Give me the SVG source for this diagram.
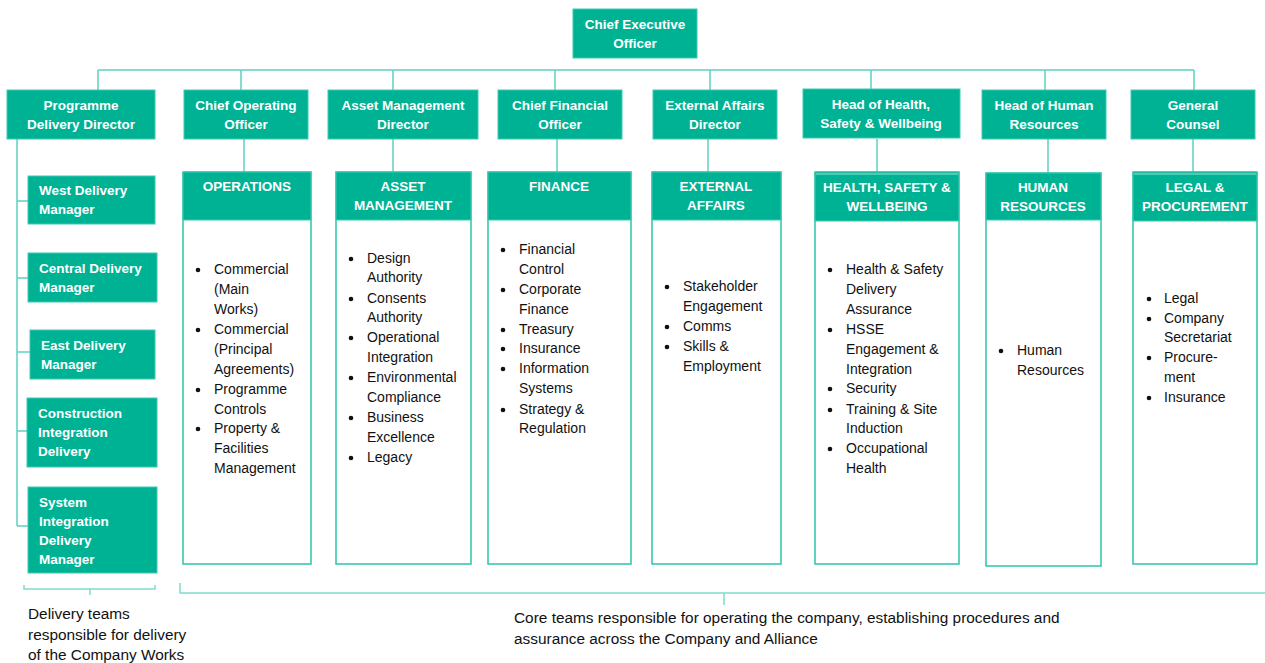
<svg xmlns="http://www.w3.org/2000/svg" width="1265" height="663" viewBox="0 0 1265 663">
<style>
.box{fill:#00b294;stroke:#3fcab3;stroke-width:1}
.body{fill:#fff;stroke:#2ec4aa;stroke-width:1.5}
.hd{fill:#00b294;stroke:#3fcab3;stroke-width:1}
.t{font-family:"Liberation Sans",Arial,sans-serif;font-weight:bold;font-size:13.5px;fill:#fff}
.c{text-anchor:middle}
.li{font-family:"Liberation Sans",Arial,sans-serif;font-size:14px;fill:#111}
.cap{font-family:"Liberation Sans",Arial,sans-serif;font-size:15.4px;fill:#111}
.ln{fill:none;stroke:#5fd2c0;stroke-width:1.5}
.br{fill:none;stroke:#7fdccd;stroke-width:1.5}
.bul{fill:#111}
</style>
<rect width="1265" height="663" fill="#fff"/>
<g id="connectors">
<path class="ln" d="M98,70 H1194 M98,70 V90 M241,70 V90 M393,70 V90 M555,70 V90 M710,70 V90 M871,70 V90 M1045,70 V90 M1194,70 V90"/>
<path class="ln" d="M244,139 V172 M393,139 V172 M557,139 V172 M708,139 V172 M877,139 V172 M1048,139 V173 M1193,139 V172"/>
<path class="ln" d="M17,139 V526 M17,201 H28 M17,278 H28 M17,352 H30 M17,431 H27 M17,526 H28"/>
</g>
<g id="braces">
<path class="br" d="M24,585 V589 H155 V585 M90,589 V595"/>
<path class="br" d="M180,583 V593 H1265 M724,593 V605"/>
</g>
<g id="ceo"><rect class="box" x="573" y="9" width="124" height="49"/><text class="t c" x="635" y="29">Chief Executive</text><text class="t c" x="635" y="48">Officer</text></g>
<g id="pdd"><rect class="box" x="7" y="90" width="148" height="49"/><text class="t c" x="81" y="110">Programme</text><text class="t c" x="81" y="129">Delivery Director</text></g>
<g id="coo"><rect class="box" x="184" y="90" width="124" height="49"/><text class="t c" x="246" y="110">Chief Operating</text><text class="t c" x="246" y="129">Officer</text></g>
<g id="amd"><rect class="box" x="328" y="90" width="150" height="49"/><text class="t c" x="403" y="110">Asset Management</text><text class="t c" x="403" y="129">Director</text></g>
<g id="cfo"><rect class="box" x="498" y="90" width="124" height="49"/><text class="t c" x="560" y="110">Chief Financial</text><text class="t c" x="560" y="129">Officer</text></g>
<g id="ead"><rect class="box" x="653" y="90" width="124" height="49"/><text class="t c" x="715" y="110">External Affairs</text><text class="t c" x="715" y="129">Director</text></g>
<g id="hhsw"><rect class="box" x="803" y="89" width="157" height="49"/><text class="t c" x="881" y="109">Head of Health,</text><text class="t c" x="881" y="128">Safety &amp; Wellbeing</text></g>
<g id="hhr"><rect class="box" x="982" y="90" width="124" height="49"/><text class="t c" x="1044" y="110">Head of Human</text><text class="t c" x="1044" y="129">Resources</text></g>
<g id="gc"><rect class="box" x="1131" y="90" width="124" height="49"/><text class="t c" x="1193" y="110">General</text><text class="t c" x="1193" y="129">Counsel</text></g>
<g id="west"><rect class="box" x="28" y="176" width="127" height="48"/><text class="t" x="39" y="195">West Delivery</text><text class="t" x="39" y="214">Manager</text></g>
<g id="central"><rect class="box" x="28" y="253" width="129" height="49"/><text class="t" x="39" y="273">Central Delivery</text><text class="t" x="39" y="292">Manager</text></g>
<g id="east"><rect class="box" x="30" y="330" width="125" height="49"/><text class="t" x="41" y="350">East Delivery</text><text class="t" x="41" y="369">Manager</text></g>
<g id="cid"><rect class="box" x="27" y="398" width="130" height="69"/><text class="t" x="38" y="418">Construction</text><text class="t" x="38" y="437">Integration</text><text class="t" x="38" y="456">Delivery</text></g>
<g id="sidm"><rect class="box" x="28" y="487" width="129" height="86"/><text class="t" x="39" y="507">System</text><text class="t" x="39" y="526">Integration</text><text class="t" x="39" y="545">Delivery</text><text class="t" x="39" y="564">Manager</text></g>
<g id="operations"><rect class="body" x="183" y="172" width="128" height="392"/><rect class="hd" x="183" y="172" width="128" height="48"/><text class="t c" x="247" y="191">OPERATIONS</text>
<g class="li"><text x="214" y="274">Commercial</text><text x="214" y="294">(Main</text><text x="214" y="314">Works)</text><text x="214" y="334">Commercial</text><text x="214" y="354">(Principal</text><text x="214" y="374">Agreements)</text><text x="214" y="394">Programme</text><text x="214" y="414">Controls</text><text x="214" y="433">Property &amp;</text><text x="214" y="453">Facilities</text><text x="214" y="473">Management</text></g>
<g class="bul"><circle cx="198" cy="270" r="2.3"/><circle cx="198" cy="330" r="2.3"/><circle cx="198" cy="390" r="2.3"/><circle cx="198" cy="429" r="2.3"/></g></g>
<g id="asset"><rect class="body" x="336" y="172" width="135" height="392"/><rect class="hd" x="336" y="172" width="135" height="48"/><text class="t c" x="403" y="191">ASSET</text><text class="t c" x="403" y="210">MANAGEMENT</text>
<g class="li"><text x="367" y="263">Design</text><text x="367" y="282">Authority</text><text x="367" y="303">Consents</text><text x="367" y="322">Authority</text><text x="367" y="342">Operational</text><text x="367" y="362">Integration</text><text x="367" y="382">Environmental</text><text x="367" y="402">Compliance</text><text x="367" y="422">Business</text><text x="367" y="442">Excellence</text><text x="367" y="462">Legacy</text></g>
<g class="bul"><circle cx="351" cy="259" r="2.3"/><circle cx="351" cy="299" r="2.3"/><circle cx="351" cy="338" r="2.3"/><circle cx="351" cy="378" r="2.3"/><circle cx="351" cy="418" r="2.3"/><circle cx="351" cy="458" r="2.3"/></g></g>
<g id="finance"><rect class="body" x="488" y="172" width="143" height="392"/><rect class="hd" x="488" y="172" width="143" height="48"/><text class="t c" x="559" y="191">FINANCE</text>
<g class="li"><text x="519" y="254">Financial</text><text x="519" y="274">Control</text><text x="519" y="294">Corporate</text><text x="519" y="314">Finance</text><text x="519" y="334">Treasury</text><text x="519" y="353">Insurance</text><text x="519" y="373">Information</text><text x="519" y="393">Systems</text><text x="519" y="414">Strategy &amp;</text><text x="519" y="433">Regulation</text></g>
<g class="bul"><circle cx="503" cy="250" r="2.3"/><circle cx="503" cy="290" r="2.3"/><circle cx="503" cy="330" r="2.3"/><circle cx="503" cy="349" r="2.3"/><circle cx="503" cy="369" r="2.3"/><circle cx="503" cy="410" r="2.3"/></g></g>
<g id="external"><rect class="body" x="652" y="172" width="129" height="392"/><rect class="hd" x="652" y="172" width="129" height="48"/><text class="t c" x="716" y="191">EXTERNAL</text><text class="t c" x="716" y="210">AFFAIRS</text>
<g class="li"><text x="683" y="291">Stakeholder</text><text x="683" y="311">Engagement</text><text x="683" y="331">Comms</text><text x="683" y="351">Skills &amp;</text><text x="683" y="371">Employment</text></g>
<g class="bul"><circle cx="667" cy="287" r="2.3"/><circle cx="667" cy="327" r="2.3"/><circle cx="667" cy="347" r="2.3"/></g></g>
<g id="hsw"><rect class="body" x="815" y="172" width="144" height="392"/><rect class="hd" x="815" y="172" width="144" height="49"/><line x1="816" y1="174" x2="958" y2="174" stroke="#bff0e6" stroke-width="0.8"/><text class="t c" x="887" y="192">HEALTH, SAFETY &amp;</text><text class="t c" x="887" y="211">WELLBEING</text>
<g class="li"><text x="846" y="274">Health &amp; Safety</text><text x="846" y="294">Delivery</text><text x="846" y="314">Assurance</text><text x="846" y="334">HSSE</text><text x="846" y="354">Engagement &amp;</text><text x="846" y="374">Integration</text><text x="846" y="393">Security</text><text x="846" y="414">Training &amp; Site</text><text x="846" y="433">Induction</text><text x="846" y="453">Occupational</text><text x="846" y="473">Health</text></g>
<g class="bul"><circle cx="830" cy="270" r="2.3"/><circle cx="830" cy="330" r="2.3"/><circle cx="830" cy="389" r="2.3"/><circle cx="830" cy="410" r="2.3"/><circle cx="830" cy="449" r="2.3"/></g></g>
<g id="hr"><rect class="body" x="986" y="173" width="115" height="393"/><rect class="hd" x="986" y="173" width="115" height="47"/><text class="t c" x="1043" y="192">HUMAN</text><text class="t c" x="1043" y="211">RESOURCES</text>
<g class="li"><text x="1017" y="355">Human</text><text x="1017" y="375">Resources</text></g>
<g class="bul"><circle cx="1001" cy="351" r="2.3"/></g></g>
<g id="legal"><rect class="body" x="1133" y="172" width="124" height="392"/><rect class="hd" x="1133" y="172" width="124" height="49"/><line x1="1134" y1="174" x2="1256" y2="174" stroke="#bff0e6" stroke-width="0.8"/><text class="t c" x="1195" y="192">LEGAL &amp;</text><text class="t c" x="1195" y="211">PROCUREMENT</text>
<g class="li"><text x="1164" y="303">Legal</text><text x="1164" y="323">Company</text><text x="1164" y="342">Secretariat</text><text x="1164" y="362">Procure-</text><text x="1164" y="382">ment</text><text x="1164" y="402">Insurance</text></g>
<g class="bul"><circle cx="1149" cy="299" r="2.3"/><circle cx="1149" cy="319" r="2.3"/><circle cx="1149" cy="358" r="2.3"/><circle cx="1149" cy="398" r="2.3"/></g></g>
<g id="captions">
<text class="cap" x="28" y="619">Delivery teams</text><text class="cap" x="28" y="640">responsible for delivery</text><text class="cap" x="28" y="660">of the Company Works</text>
<text class="cap" x="514" y="623">Core teams responsible for operating the company, establishing procedures and</text><text class="cap" x="514" y="644">assurance across the Company and Alliance</text>
</g>
</svg>
